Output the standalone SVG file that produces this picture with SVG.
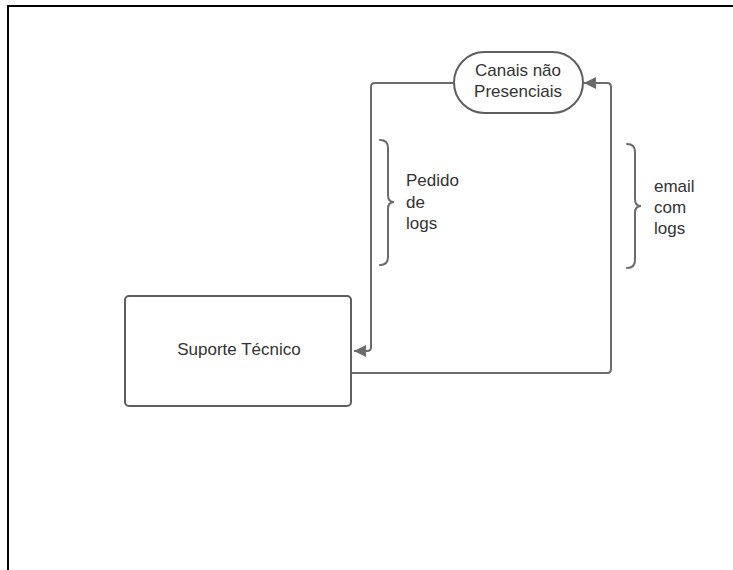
<svg xmlns="http://www.w3.org/2000/svg" width="733" height="570" viewBox="0 0 733 570">
<defs>
<style>
.frame{fill:none;stroke:#000;stroke-width:2}
.node{fill:#fff;stroke:#5e5e5e;stroke-width:2}
.conn{fill:none;stroke:#6b6b6b;stroke-width:2}
.brace{fill:none;stroke:#6b6b6b;stroke-width:2;stroke-linecap:round}
.t{font-family:"Liberation Sans",Arial,sans-serif;font-size:17px;fill:#333}
</style>
<marker id="arr" viewBox="0 0 10 10" refX="10" refY="5" markerWidth="6" markerHeight="6" orient="auto" markerUnits="strokeWidth">
<path d="M0,0 L10,5 L0,10 z" fill="#6b6b6b"/>
</marker>
</defs>
<rect width="733" height="570" fill="#fff"/>
<path class="frame" d="M8 570 V6 H733"/>
<g id="connectors">
<path class="conn" d="M454 83 H375 Q371 83 371 87 V347 Q371 351 367 351 H354" marker-end="url(#arr)"/>
<path class="conn" d="M352 373 H607 Q611 373 611 369 V87 Q611 83 607 83 H584" marker-end="url(#arr)"/>
</g>
<g id="canais">
<rect class="node" x="454" y="52" width="129" height="61" rx="30.5"/>
<text class="t" text-anchor="middle" x="518" y="76">Canais não</text>
<text class="t" text-anchor="middle" x="518" y="97">Presenciais</text>
</g>
<g id="suporte">
<rect class="node" x="125" y="296" width="226" height="110" rx="4"/>
<text class="t" text-anchor="middle" x="239" y="355">Suporte Técnico</text>
</g>
<g id="pedido">
<path class="brace" d="M380 140 Q388 140 388 148 V195 Q388 202 394 202 Q388 202 388 209 V257 Q388 265 380 265"/>
<text class="t" x="406" y="186">Pedido</text>
<text class="t" x="406" y="208">de</text>
<text class="t" x="406" y="229">logs</text>
</g>
<g id="email">
<path class="brace" d="M627 144 Q635 144 635 152 V199 Q635 206 641 206 Q635 206 635 213 V260 Q635 268 627 268"/>
<text class="t" x="654" y="192">email</text>
<text class="t" x="654" y="213">com</text>
<text class="t" x="654" y="234">logs</text>
</g>
</svg>
